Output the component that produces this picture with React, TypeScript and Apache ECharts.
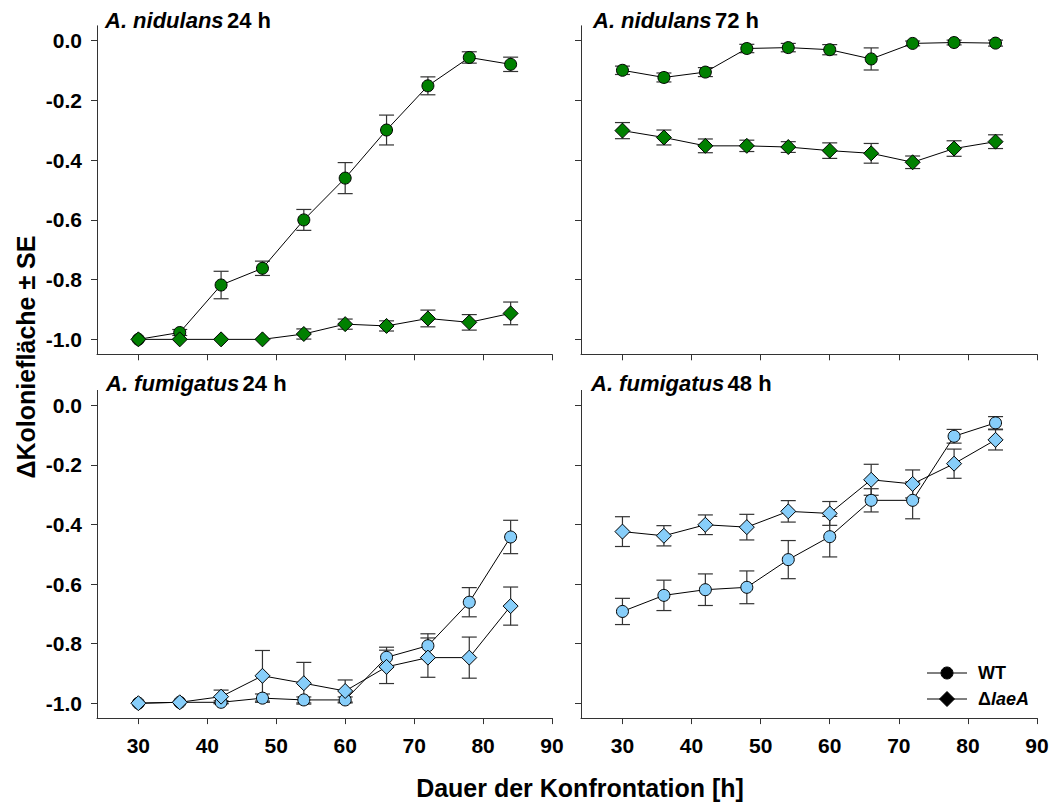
import React, { useEffect, useRef } from "react";
import * as echarts from "echarts";

// ---- data ----
const hours = [30, 36, 42, 48, 54, 60, 66, 72, 78, 84];
const xTicks = [30, 40, 50, 60, 70, 80, 90];
const yTicks = [-1.0, -0.8, -0.6, -0.4, -0.2, 0.0];

const nid24WT = [-1.0, -0.977, -0.818, -0.762, -0.6, -0.46, -0.299, -0.151, -0.056, -0.079];
const nid24WTse = [0, 0.01, 0.046, 0.024, 0.035, 0.052, 0.05, 0.03, 0.019, 0.024];
const nid24laeA = [-1.0, -1.0, -1.0, -1.0, -0.982, -0.949, -0.955, -0.93, -0.943, -0.913];
const nid24laeAse = [0, 0, 0, 0, 0.017, 0.017, 0.017, 0.028, 0.026, 0.038];

const nid72WT = [-0.099, -0.123, -0.105, -0.026, -0.023, -0.03, -0.061, -0.009, -0.006, -0.008];
const nid72WTse = [0.014, 0.015, 0.015, 0.014, 0.014, 0.017, 0.037, 0.008, 0.008, 0.01];
const nid72laeA = [-0.301, -0.324, -0.352, -0.352, -0.356, -0.368, -0.377, -0.407, -0.361, -0.338];
const nid72laeAse = [0.027, 0.025, 0.023, 0.019, 0.018, 0.026, 0.033, 0.021, 0.026, 0.023];

const fum24WT = [-1.0, -0.997, -0.997, -0.983, -0.989, -0.989, -0.846, -0.807, -0.661, -0.442];
const fum24WTse = [0, 0, 0.005, 0.014, 0.01, 0.01, 0.034, 0.04, 0.049, 0.056];
const fum24laeA = [-1.0, -0.997, -0.978, -0.908, -0.933, -0.959, -0.878, -0.847, -0.847, -0.674];
const fum24laeAse = [0, 0, 0.022, 0.085, 0.07, 0.037, 0.056, 0.066, 0.069, 0.064];

const fum48WT = [-0.692, -0.638, -0.619, -0.611, -0.518, -0.441, -0.319, -0.319, -0.104, -0.059];
const fum48WTse = [0.044, 0.051, 0.053, 0.055, 0.064, 0.068, 0.039, 0.062, 0.023, 0.021];
const fum48laeA = [-0.424, -0.438, -0.401, -0.409, -0.356, -0.363, -0.25, -0.264, -0.196, -0.116];
const fum48laeAse = [0.05, 0.034, 0.033, 0.043, 0.036, 0.04, 0.052, 0.047, 0.049, 0.034];

const GREEN = "#008000";
const BLUE = "#87CEFA";
const FONT = "'Liberation Sans', Arial, Helvetica, sans-serif";

type Panel = {
  wt: number[]; wtSe: number[]; ko: number[]; koSe: number[];
  color: string; species: string; time: string;
  showX: boolean; showY: boolean;
};

const panels: Panel[] = [
  { wt: nid24WT, wtSe: nid24WTse, ko: nid24laeA, koSe: nid24laeAse, color: GREEN, species: "A. nidulans", time: "24 h", showX: false, showY: true },
  { wt: nid72WT, wtSe: nid72WTse, ko: nid72laeA, koSe: nid72laeAse, color: GREEN, species: "A. nidulans", time: "72 h", showX: false, showY: false },
  { wt: fum24WT, wtSe: fum24WTse, ko: fum24laeA, koSe: fum24laeAse, color: BLUE, species: "A. fumigatus", time: "24 h", showX: true, showY: true },
  { wt: fum48WT, wtSe: fum48WTse, ko: fum48laeA, koSe: fum48laeAse, color: BLUE, species: "A. fumigatus", time: "48 h", showX: true, showY: false },
];

const gridPos = [
  { left: 97, top: 25.8, width: 455, height: 328.5 },
  { left: 581, top: 25.8, width: 456, height: 328.5 },
  { left: 97, top: 390.4, width: 455, height: 327.7 },
  { left: 581, top: 390.4, width: 456, height: 327.7 },
];
const titlePos = [
  { x: 105, y: 20 },
  { x: 593, y: 20 },
  { x: 106, y: 383 },
  { x: 591, y: 383 },
];

function errRender(params: any, api: any) {
  const x = api.value(0);
  const lo = api.value(1);
  const hi = api.value(2);
  const p1 = api.coord([x, hi]);
  const p2 = api.coord([x, lo]);
  const w = 7.5;
  const st = { stroke: "#333", lineWidth: 1.2 };
  return {
    type: "group",
    children: [
      { type: "line", shape: { x1: p1[0], y1: p1[1], x2: p2[0], y2: p2[1] }, style: st },
      { type: "line", shape: { x1: p1[0] - w, y1: p1[1], x2: p1[0] + w, y2: p1[1] }, style: st },
      { type: "line", shape: { x1: p2[0] - w, y1: p2[1], x2: p2[0] + w, y2: p2[1] }, style: st },
    ],
  };
}

export default function App() {
  const ref = useRef<HTMLDivElement>(null);
  useEffect(() => {
    if (!ref.current) return;
    const chart = echarts.init(ref.current, null, { renderer: "svg" });

    const grid: any[] = [];
    const xAxis: any[] = [];
    const yAxis: any[] = [];
    const series: any[] = [];
    const graphic: any[] = [];

    panels.forEach((p, i) => {
      grid.push({ ...gridPos[i], containLabel: false, outerBoundsMode: "none" });
      xAxis.push({
        type: "value", gridIndex: i, min: 24, max: 90,
        splitLine: { show: false },
        axisLine: { onZero: false, lineStyle: { color: "#333", width: 1 } },
        axisTick: { show: true, inside: false, length: 6, customValues: xTicks, lineStyle: { color: "#333" } },
        axisLabel: {
          show: p.showX, customValues: xTicks, margin: 17,
          fontFamily: FONT, fontWeight: "bold", fontSize: 21, color: "#000",
        },
      });
      yAxis.push({
        type: "value", gridIndex: i, min: -1.05, max: 0.05,
        splitLine: { show: false },
        axisLine: { show: true, onZero: false, lineStyle: { color: "#333", width: 1 } },
        axisTick: { show: true, inside: false, length: 6, customValues: yTicks, lineStyle: { color: "#333" } },
        axisLabel: {
          show: p.showY, customValues: yTicks, margin: 15,
          formatter: (v: number) => v.toFixed(1),
          fontFamily: FONT, fontWeight: "bold", fontSize: 21, color: "#000",
        },
      });
      const errData = (vals: number[], se: number[]) =>
        hours.map((h, k) => [h, vals[k] - se[k], vals[k] + se[k], se[k]]).filter((d) => d[3] > 0);
      series.push({
        type: "custom", xAxisIndex: i, yAxisIndex: i, renderItem: errRender,
        data: errData(p.wt, p.wtSe), encode: { x: 0, y: [1, 2] }, z: 1, silent: true,
      });
      series.push({
        type: "custom", xAxisIndex: i, yAxisIndex: i, renderItem: errRender,
        data: errData(p.ko, p.koSe), encode: { x: 0, y: [1, 2] }, z: 1, silent: true,
      });
      series.push({
        type: "line", name: "WT", xAxisIndex: i, yAxisIndex: i,
        data: hours.map((h, k) => [h, p.wt[k]]),
        symbol: "circle", symbolSize: 12, showAllSymbol: true,
        lineStyle: { color: "#000", width: 1 },
        itemStyle: { color: p.color, borderColor: "#000", borderWidth: 1 },
        z: 2,
      });
      series.push({
        type: "line", name: "ΔlaeA", xAxisIndex: i, yAxisIndex: i,
        data: hours.map((h, k) => [h, p.ko[k]]),
        symbol: "diamond", symbolSize: [15, 15], showAllSymbol: true,
        lineStyle: { color: "#000", width: 1 },
        itemStyle: { color: p.color, borderColor: "#000", borderWidth: 1 },
        z: 3,
      });
      graphic.push({
        type: "text", x: titlePos[i].x, y: titlePos[i].y,
        style: {
          text: `{i|${p.species}} {n|${p.time}}`,
          verticalAlign: "middle", align: "left",
          rich: {
            i: { fontFamily: FONT, fontStyle: "italic", fontWeight: "bold", fontSize: 22, fill: "#000" },
            n: { fontFamily: FONT, fontWeight: "bold", fontSize: 22, fill: "#000" },
          },
        },
      });
    });

    // axis titles
    graphic.push({
      type: "text", x: 26, y: 357, rotation: Math.PI / 2,
      style: {
        text: "ΔKoloniefläche ± SE", align: "center", verticalAlign: "middle",
        fontFamily: FONT, fontWeight: "bold", fontSize: 25, fill: "#000",
      },
    });
    graphic.push({
      type: "text", x: 580, y: 788,
      style: {
        text: "Dauer der Konfrontation [h]", align: "center", verticalAlign: "middle",
        fontFamily: FONT, fontWeight: "bold", fontSize: 25, fill: "#000",
      },
    });

    // legend
    const lx1 = 927, lx2 = 967, lcx = 947, ly1 = 673, ly2 = 699;
    graphic.push({ type: "line", shape: { x1: lx1, y1: ly1, x2: lx2, y2: ly1 }, style: { stroke: "#000", lineWidth: 1 } });
    graphic.push({ type: "circle", shape: { cx: lcx, cy: ly1, r: 6 }, style: { fill: "#000", stroke: "#000" } });
    graphic.push({
      type: "text", x: 978, y: ly1,
      style: { text: "WT", verticalAlign: "middle", fontFamily: FONT, fontWeight: "bold", fontSize: 18, fill: "#000" },
    });
    graphic.push({ type: "line", shape: { x1: lx1, y1: ly2, x2: lx2, y2: ly2 }, style: { stroke: "#000", lineWidth: 1 } });
    graphic.push({
      type: "polygon",
      shape: { points: [[lcx, ly2 - 7.5], [lcx + 7.5, ly2], [lcx, ly2 + 7.5], [lcx - 7.5, ly2]] },
      style: { fill: "#000", stroke: "#000" },
    });
    graphic.push({
      type: "text", x: 978, y: ly2,
      style: {
        text: "{a|Δ}{b|laeA}", verticalAlign: "middle",
        rich: {
          a: { fontFamily: FONT, fontWeight: "bold", fontSize: 18, fill: "#000" },
          b: { fontFamily: FONT, fontWeight: "bold", fontStyle: "italic", fontSize: 18, fill: "#000" },
        },
      },
    });

    chart.setOption({
      animation: false,
      backgroundColor: "#fff",
      grid, xAxis, yAxis, series, graphic,
    });
    return () => chart.dispose();
  }, []);

  return (
    <div
      ref={ref}
      style={{ position: "fixed", left: 0, top: 0, width: 1053, height: 803 }}
    />
  );
}
